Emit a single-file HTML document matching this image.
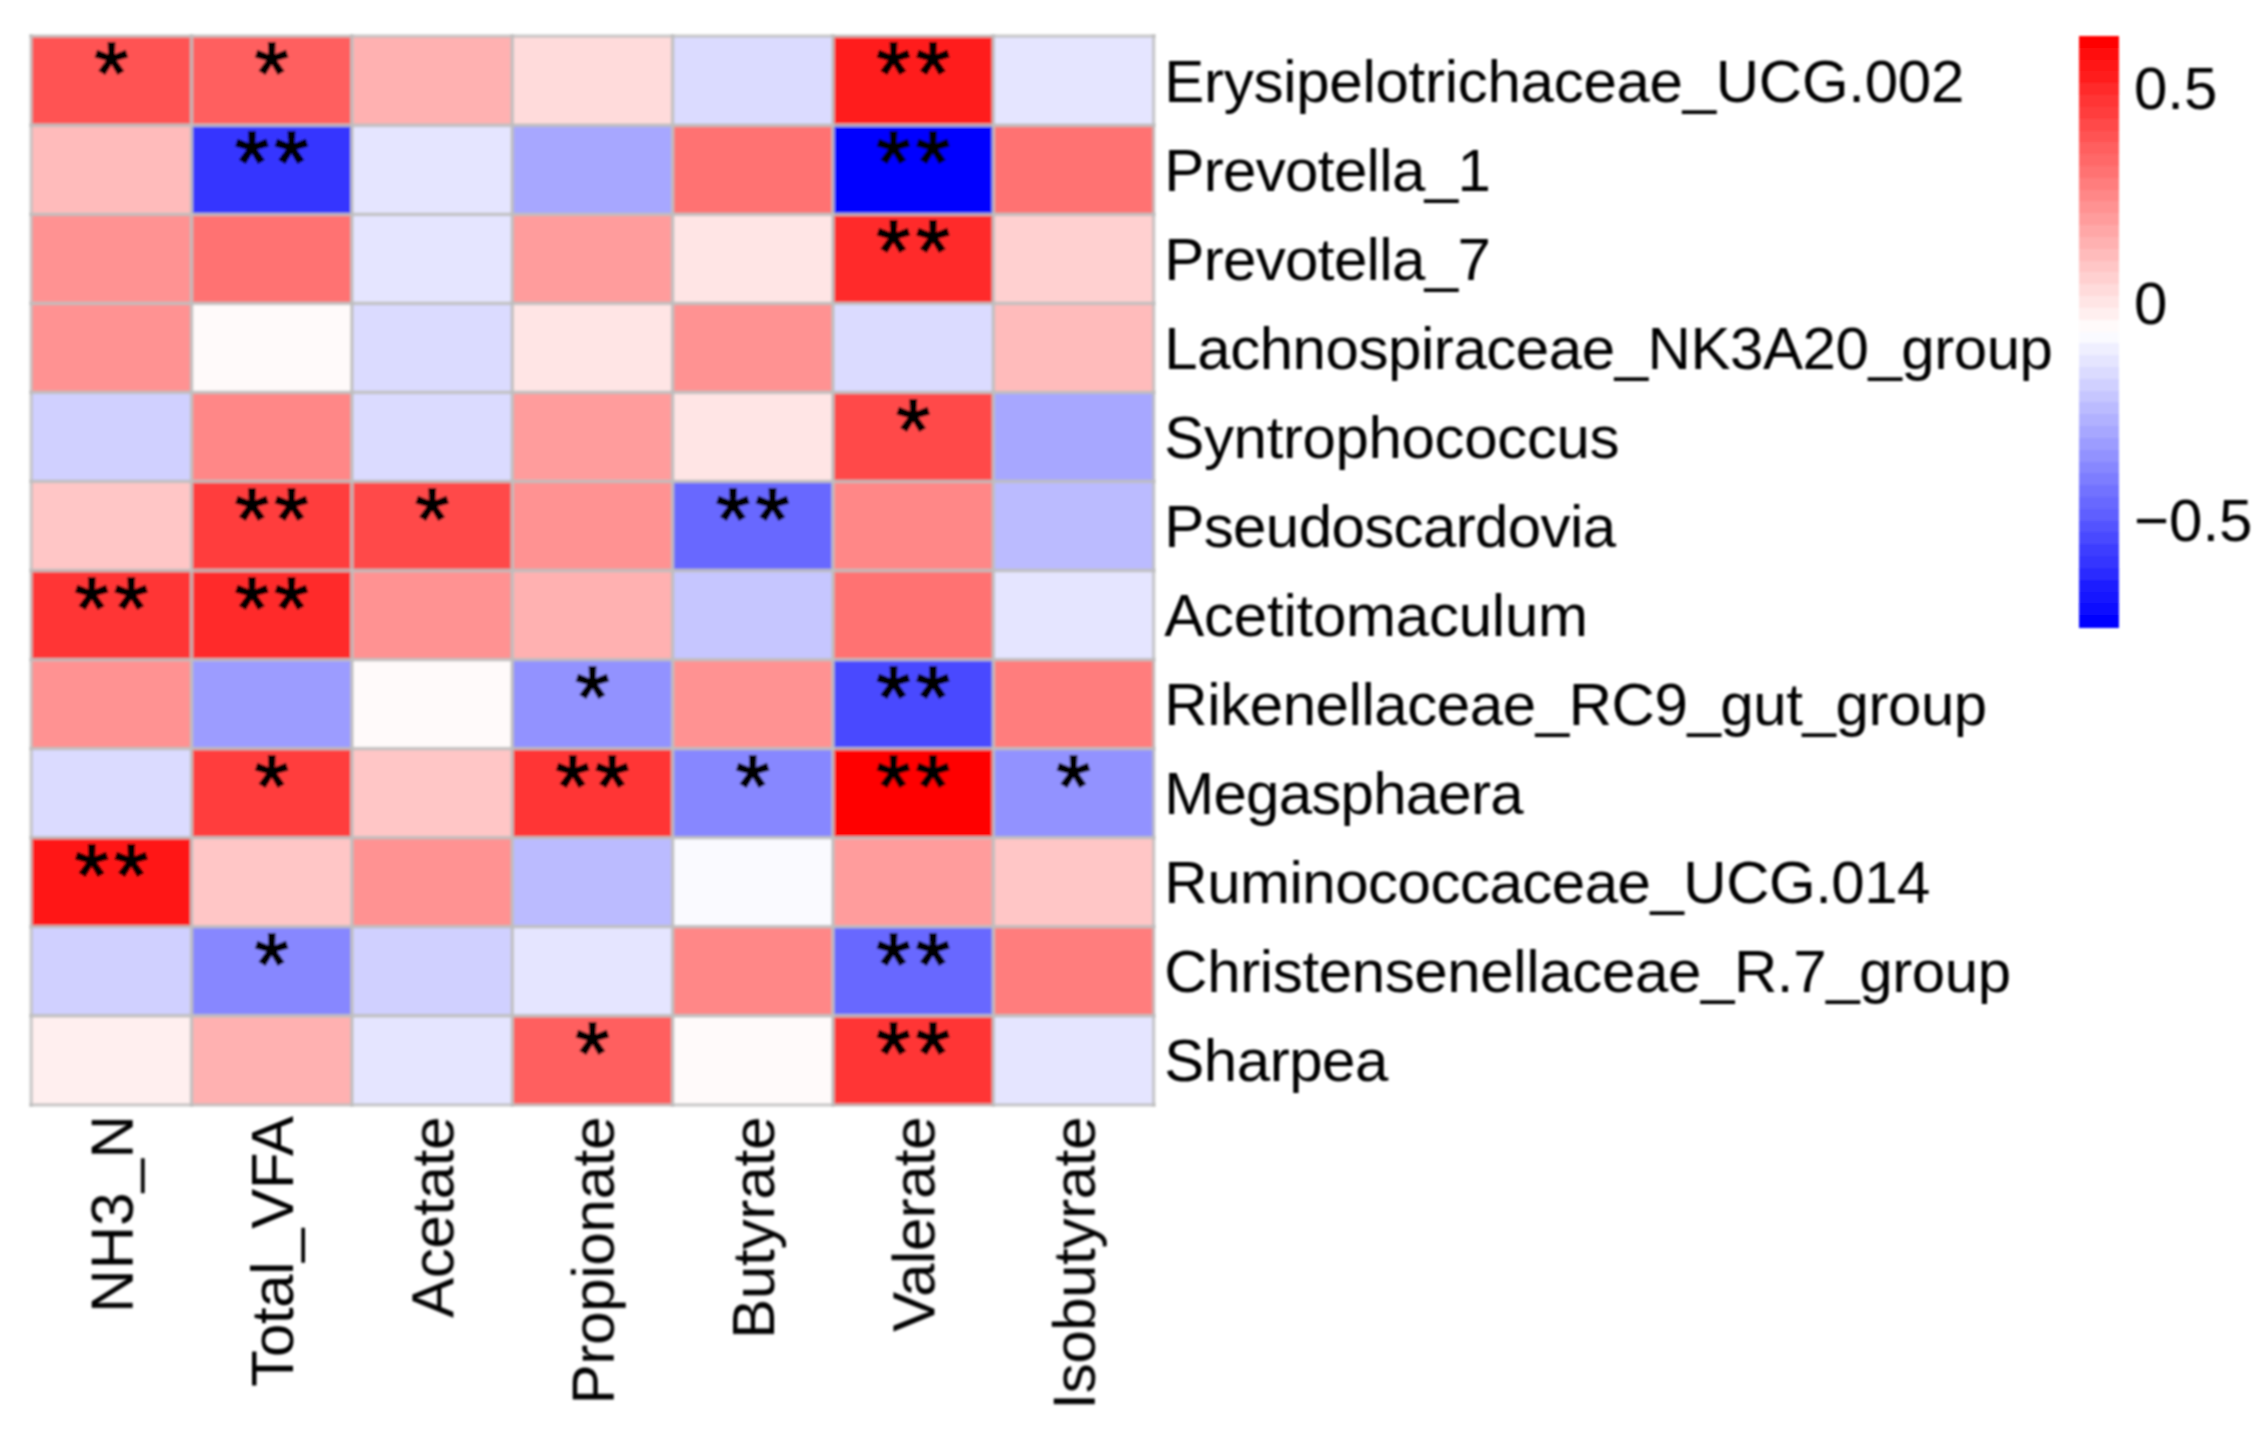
<!DOCTYPE html><html><head><meta charset="utf-8"><title>Heatmap</title><style>html,body{margin:0;padding:0;background:#fff}svg{display:block}text{font-family:"Liberation Sans",sans-serif;fill:#000}#rowlabels text,#collabels text,#legend text{stroke:#000;stroke-width:0px}</style></head><body>
<svg width="2266" height="1429" viewBox="0 0 2266 1429">
<defs><filter id="soft" x="0" y="0" width="2266" height="1429" filterUnits="userSpaceOnUse"><feGaussianBlur stdDeviation="0.9"/></filter></defs>
<rect width="2266" height="1429" fill="#fff"/>
<g filter="url(#soft)">
<g id="cells">
<rect x="31.20" y="36.20" width="160.85" height="89.55" fill="#ff5353"/>
<rect x="191.55" y="36.20" width="160.85" height="89.55" fill="#ff5e5e"/>
<rect x="351.90" y="36.20" width="160.85" height="89.55" fill="#ffb1b1"/>
<rect x="512.25" y="36.20" width="160.85" height="89.55" fill="#ffdbdb"/>
<rect x="672.60" y="36.20" width="160.85" height="89.55" fill="#dbdbff"/>
<rect x="832.95" y="36.20" width="160.85" height="89.55" fill="#ff1f1f"/>
<rect x="993.30" y="36.20" width="160.85" height="89.55" fill="#e5e5ff"/>
<rect x="31.20" y="125.25" width="160.85" height="89.55" fill="#ffbbbb"/>
<rect x="191.55" y="125.25" width="160.85" height="89.55" fill="#3434ff"/>
<rect x="351.90" y="125.25" width="160.85" height="89.55" fill="#e5e5ff"/>
<rect x="512.25" y="125.25" width="160.85" height="89.55" fill="#a7a7ff"/>
<rect x="672.60" y="125.25" width="160.85" height="89.55" fill="#ff7272"/>
<rect x="832.95" y="125.25" width="160.85" height="89.55" fill="#0000ff"/>
<rect x="993.30" y="125.25" width="160.85" height="89.55" fill="#ff7272"/>
<rect x="31.20" y="214.30" width="160.85" height="89.55" fill="#ff9292"/>
<rect x="191.55" y="214.30" width="160.85" height="89.55" fill="#ff7272"/>
<rect x="351.90" y="214.30" width="160.85" height="89.55" fill="#e5e5ff"/>
<rect x="512.25" y="214.30" width="160.85" height="89.55" fill="#ff9c9c"/>
<rect x="672.60" y="214.30" width="160.85" height="89.55" fill="#ffe5e5"/>
<rect x="832.95" y="214.30" width="160.85" height="89.55" fill="#ff2a2a"/>
<rect x="993.30" y="214.30" width="160.85" height="89.55" fill="#ffd0d0"/>
<rect x="31.20" y="303.35" width="160.85" height="89.55" fill="#ff9292"/>
<rect x="191.55" y="303.35" width="160.85" height="89.55" fill="#fffafa"/>
<rect x="351.90" y="303.35" width="160.85" height="89.55" fill="#dbdbff"/>
<rect x="512.25" y="303.35" width="160.85" height="89.55" fill="#ffe5e5"/>
<rect x="672.60" y="303.35" width="160.85" height="89.55" fill="#ff9292"/>
<rect x="832.95" y="303.35" width="160.85" height="89.55" fill="#dbdbff"/>
<rect x="993.30" y="303.35" width="160.85" height="89.55" fill="#ffbbbb"/>
<rect x="31.20" y="392.40" width="160.85" height="89.55" fill="#d0d0ff"/>
<rect x="191.55" y="392.40" width="160.85" height="89.55" fill="#ff8787"/>
<rect x="351.90" y="392.40" width="160.85" height="89.55" fill="#dbdbff"/>
<rect x="512.25" y="392.40" width="160.85" height="89.55" fill="#ff9c9c"/>
<rect x="672.60" y="392.40" width="160.85" height="89.55" fill="#ffe5e5"/>
<rect x="832.95" y="392.40" width="160.85" height="89.55" fill="#ff4949"/>
<rect x="993.30" y="392.40" width="160.85" height="89.55" fill="#a7a7ff"/>
<rect x="31.20" y="481.45" width="160.85" height="89.55" fill="#ffc6c6"/>
<rect x="191.55" y="481.45" width="160.85" height="89.55" fill="#ff3e3e"/>
<rect x="351.90" y="481.45" width="160.85" height="89.55" fill="#ff4949"/>
<rect x="512.25" y="481.45" width="160.85" height="89.55" fill="#ff9292"/>
<rect x="672.60" y="481.45" width="160.85" height="89.55" fill="#6868ff"/>
<rect x="832.95" y="481.45" width="160.85" height="89.55" fill="#ff8787"/>
<rect x="993.30" y="481.45" width="160.85" height="89.55" fill="#bbbbff"/>
<rect x="31.20" y="570.50" width="160.85" height="89.55" fill="#ff3434"/>
<rect x="191.55" y="570.50" width="160.85" height="89.55" fill="#ff2a2a"/>
<rect x="351.90" y="570.50" width="160.85" height="89.55" fill="#ff9292"/>
<rect x="512.25" y="570.50" width="160.85" height="89.55" fill="#ffb1b1"/>
<rect x="672.60" y="570.50" width="160.85" height="89.55" fill="#c6c6ff"/>
<rect x="832.95" y="570.50" width="160.85" height="89.55" fill="#ff7272"/>
<rect x="993.30" y="570.50" width="160.85" height="89.55" fill="#e5e5ff"/>
<rect x="31.20" y="659.55" width="160.85" height="89.55" fill="#ff9292"/>
<rect x="191.55" y="659.55" width="160.85" height="89.55" fill="#9c9cff"/>
<rect x="351.90" y="659.55" width="160.85" height="89.55" fill="#fffafa"/>
<rect x="512.25" y="659.55" width="160.85" height="89.55" fill="#9292ff"/>
<rect x="672.60" y="659.55" width="160.85" height="89.55" fill="#ff9292"/>
<rect x="832.95" y="659.55" width="160.85" height="89.55" fill="#4949ff"/>
<rect x="993.30" y="659.55" width="160.85" height="89.55" fill="#ff7d7d"/>
<rect x="31.20" y="748.60" width="160.85" height="89.55" fill="#dbdbff"/>
<rect x="191.55" y="748.60" width="160.85" height="89.55" fill="#ff3e3e"/>
<rect x="351.90" y="748.60" width="160.85" height="89.55" fill="#ffc6c6"/>
<rect x="512.25" y="748.60" width="160.85" height="89.55" fill="#ff3434"/>
<rect x="672.60" y="748.60" width="160.85" height="89.55" fill="#8787ff"/>
<rect x="832.95" y="748.60" width="160.85" height="89.55" fill="#ff0000"/>
<rect x="993.30" y="748.60" width="160.85" height="89.55" fill="#9292ff"/>
<rect x="31.20" y="837.65" width="160.85" height="89.55" fill="#ff1515"/>
<rect x="191.55" y="837.65" width="160.85" height="89.55" fill="#ffc6c6"/>
<rect x="351.90" y="837.65" width="160.85" height="89.55" fill="#ff9292"/>
<rect x="512.25" y="837.65" width="160.85" height="89.55" fill="#bbbbff"/>
<rect x="672.60" y="837.65" width="160.85" height="89.55" fill="#fafaff"/>
<rect x="832.95" y="837.65" width="160.85" height="89.55" fill="#ff9c9c"/>
<rect x="993.30" y="837.65" width="160.85" height="89.55" fill="#ffc6c6"/>
<rect x="31.20" y="926.70" width="160.85" height="89.55" fill="#d0d0ff"/>
<rect x="191.55" y="926.70" width="160.85" height="89.55" fill="#8787ff"/>
<rect x="351.90" y="926.70" width="160.85" height="89.55" fill="#d0d0ff"/>
<rect x="512.25" y="926.70" width="160.85" height="89.55" fill="#e5e5ff"/>
<rect x="672.60" y="926.70" width="160.85" height="89.55" fill="#ff8787"/>
<rect x="832.95" y="926.70" width="160.85" height="89.55" fill="#6868ff"/>
<rect x="993.30" y="926.70" width="160.85" height="89.55" fill="#ff7d7d"/>
<rect x="31.20" y="1015.75" width="160.85" height="89.55" fill="#ffefef"/>
<rect x="191.55" y="1015.75" width="160.85" height="89.55" fill="#ffb1b1"/>
<rect x="351.90" y="1015.75" width="160.85" height="89.55" fill="#e5e5ff"/>
<rect x="512.25" y="1015.75" width="160.85" height="89.55" fill="#ff5e5e"/>
<rect x="672.60" y="1015.75" width="160.85" height="89.55" fill="#fffafa"/>
<rect x="832.95" y="1015.75" width="160.85" height="89.55" fill="#ff3434"/>
<rect x="993.30" y="1015.75" width="160.85" height="89.55" fill="#e5e5ff"/>
</g>
<g id="grid" stroke="#bebebe" stroke-width="3.8" stroke-opacity="0.82" stroke-linecap="square">
<line x1="31.20" y1="36.20" x2="31.20" y2="1104.80" stroke-opacity="0.7"/>
<line x1="191.55" y1="36.20" x2="191.55" y2="1104.80"/>
<line x1="351.90" y1="36.20" x2="351.90" y2="1104.80"/>
<line x1="512.25" y1="36.20" x2="512.25" y2="1104.80"/>
<line x1="672.60" y1="36.20" x2="672.60" y2="1104.80"/>
<line x1="832.95" y1="36.20" x2="832.95" y2="1104.80"/>
<line x1="993.30" y1="36.20" x2="993.30" y2="1104.80"/>
<line x1="1153.65" y1="36.20" x2="1153.65" y2="1104.80" stroke-opacity="0.7"/>
<line x1="31.20" y1="36.20" x2="1153.65" y2="36.20" stroke-opacity="0.7"/>
<line x1="31.20" y1="125.25" x2="1153.65" y2="125.25"/>
<line x1="31.20" y1="214.30" x2="1153.65" y2="214.30"/>
<line x1="31.20" y1="303.35" x2="1153.65" y2="303.35"/>
<line x1="31.20" y1="392.40" x2="1153.65" y2="392.40"/>
<line x1="31.20" y1="481.45" x2="1153.65" y2="481.45"/>
<line x1="31.20" y1="570.50" x2="1153.65" y2="570.50"/>
<line x1="31.20" y1="659.55" x2="1153.65" y2="659.55"/>
<line x1="31.20" y1="748.60" x2="1153.65" y2="748.60"/>
<line x1="31.20" y1="837.65" x2="1153.65" y2="837.65"/>
<line x1="31.20" y1="926.70" x2="1153.65" y2="926.70"/>
<line x1="31.20" y1="1015.75" x2="1153.65" y2="1015.75"/>
<line x1="31.20" y1="1104.80" x2="1153.65" y2="1104.80" stroke-opacity="0.7"/>
</g>
<g id="stars" font-size="87" text-anchor="middle" letter-spacing="5.66" stroke="#000" stroke-width="2" stroke-linejoin="miter">
<text x="114.20" y="103.32">*</text>
<text x="274.55" y="103.32">*</text>
<text x="915.95" y="103.32">**</text>
<text x="274.55" y="192.37">**</text>
<text x="915.95" y="192.37">**</text>
<text x="915.95" y="281.43">**</text>
<text x="915.95" y="459.52">*</text>
<text x="274.55" y="548.58">**</text>
<text x="434.90" y="548.58">*</text>
<text x="755.60" y="548.58">**</text>
<text x="114.20" y="637.62">**</text>
<text x="274.55" y="637.62">**</text>
<text x="595.25" y="726.68">*</text>
<text x="915.95" y="726.68">**</text>
<text x="274.55" y="815.73">*</text>
<text x="595.25" y="815.73">**</text>
<text x="755.60" y="815.73">*</text>
<text x="915.95" y="815.73">**</text>
<text x="1076.30" y="815.73">*</text>
<text x="114.20" y="904.78">**</text>
<text x="274.55" y="993.83">*</text>
<text x="915.95" y="993.83">**</text>
<text x="595.25" y="1082.88">*</text>
<text x="915.95" y="1082.88">**</text>
</g>
<g id="rowlabels" font-size="60">
<text class="rl" x="1164.3" y="101.52" textLength="799.98" lengthAdjust="spacing">Erysipelotrichaceae_UCG.002</text>
<text class="rl" x="1164.3" y="190.57" textLength="326.55" lengthAdjust="spacing">Prevotella_1</text>
<text class="rl" x="1164.3" y="279.62" textLength="326.55" lengthAdjust="spacing">Prevotella_7</text>
<text class="rl" x="1164.3" y="368.68" textLength="888.69" lengthAdjust="spacing">Lachnospiraceae_NK3A20_group</text>
<text class="rl" x="1164.3" y="457.72" textLength="455.27" lengthAdjust="spacing">Syntrophococcus</text>
<text class="rl" x="1164.3" y="546.77" textLength="451.80" lengthAdjust="spacing">Pseudoscardovia</text>
<text class="rl" x="1164.3" y="635.82" textLength="423.73" lengthAdjust="spacing">Acetitomaculum</text>
<text class="rl" x="1164.3" y="724.88" textLength="822.91" lengthAdjust="spacing">Rikenellaceae_RC9_gut_group</text>
<text class="rl" x="1164.3" y="813.92" textLength="359.22" lengthAdjust="spacing">Megasphaera</text>
<text class="rl" x="1164.3" y="902.98" textLength="766.18" lengthAdjust="spacing">Ruminococcaceae_UCG.014</text>
<text class="rl" x="1164.3" y="992.02" textLength="846.83" lengthAdjust="spacing">Christensenellaceae_R.7_group</text>
<text class="rl" x="1164.3" y="1081.08" textLength="224.06" lengthAdjust="spacing">Sharpea</text>
</g>
<g id="collabels" font-size="60" text-anchor="end">
<text class="cl" transform="translate(132.68,1115.3) rotate(-90)" textLength="197.63" lengthAdjust="spacing">NH3_N</text>
<text class="cl" transform="translate(293.02,1116.1) rotate(-90)" textLength="270.70" lengthAdjust="spacing">Total_VFA</text>
<text class="cl" transform="translate(453.38,1116.6) rotate(-90)" textLength="201.27" lengthAdjust="spacing">Acetate</text>
<text class="cl" transform="translate(613.73,1116.6) rotate(-90)" textLength="287.72" lengthAdjust="spacing">Propionate</text>
<text class="cl" transform="translate(774.07,1116.6) rotate(-90)" textLength="222.35" lengthAdjust="spacing">Butyrate</text>
<text class="cl" transform="translate(934.42,1116.6) rotate(-90)" textLength="215.33" lengthAdjust="spacing">Valerate</text>
<text class="cl" transform="translate(1094.77,1116.6) rotate(-90)" textLength="293.04" lengthAdjust="spacing">Isobutyrate</text>
</g>
<g id="bar" shape-rendering="crispEdges">
<rect x="2078.5" y="36.00" width="40.5" height="12.42" fill="#ff0000"/>
<rect x="2078.5" y="47.82" width="40.5" height="12.42" fill="#ff0a0a"/>
<rect x="2078.5" y="59.64" width="40.5" height="12.42" fill="#ff1515"/>
<rect x="2078.5" y="71.46" width="40.5" height="12.42" fill="#ff1f1f"/>
<rect x="2078.5" y="83.28" width="40.5" height="12.42" fill="#ff2a2a"/>
<rect x="2078.5" y="95.10" width="40.5" height="12.42" fill="#ff3434"/>
<rect x="2078.5" y="106.92" width="40.5" height="12.42" fill="#ff3e3e"/>
<rect x="2078.5" y="118.74" width="40.5" height="12.42" fill="#ff4949"/>
<rect x="2078.5" y="130.56" width="40.5" height="12.42" fill="#ff5353"/>
<rect x="2078.5" y="142.38" width="40.5" height="12.42" fill="#ff5e5e"/>
<rect x="2078.5" y="154.20" width="40.5" height="12.42" fill="#ff6868"/>
<rect x="2078.5" y="166.02" width="40.5" height="12.42" fill="#ff7272"/>
<rect x="2078.5" y="177.84" width="40.5" height="12.42" fill="#ff7d7d"/>
<rect x="2078.5" y="189.66" width="40.5" height="12.42" fill="#ff8787"/>
<rect x="2078.5" y="201.48" width="40.5" height="12.42" fill="#ff9292"/>
<rect x="2078.5" y="213.30" width="40.5" height="12.42" fill="#ff9c9c"/>
<rect x="2078.5" y="225.12" width="40.5" height="12.42" fill="#ffa7a7"/>
<rect x="2078.5" y="236.94" width="40.5" height="12.42" fill="#ffb1b1"/>
<rect x="2078.5" y="248.76" width="40.5" height="12.42" fill="#ffbbbb"/>
<rect x="2078.5" y="260.58" width="40.5" height="12.42" fill="#ffc6c6"/>
<rect x="2078.5" y="272.40" width="40.5" height="12.42" fill="#ffd0d0"/>
<rect x="2078.5" y="284.22" width="40.5" height="12.42" fill="#ffdbdb"/>
<rect x="2078.5" y="296.04" width="40.5" height="12.42" fill="#ffe5e5"/>
<rect x="2078.5" y="307.86" width="40.5" height="12.42" fill="#ffefef"/>
<rect x="2078.5" y="319.68" width="40.5" height="12.42" fill="#fffafa"/>
<rect x="2078.5" y="331.50" width="40.5" height="12.42" fill="#fafaff"/>
<rect x="2078.5" y="343.32" width="40.5" height="12.42" fill="#efefff"/>
<rect x="2078.5" y="355.14" width="40.5" height="12.42" fill="#e5e5ff"/>
<rect x="2078.5" y="366.96" width="40.5" height="12.42" fill="#dbdbff"/>
<rect x="2078.5" y="378.78" width="40.5" height="12.42" fill="#d0d0ff"/>
<rect x="2078.5" y="390.60" width="40.5" height="12.42" fill="#c6c6ff"/>
<rect x="2078.5" y="402.42" width="40.5" height="12.42" fill="#bbbbff"/>
<rect x="2078.5" y="414.24" width="40.5" height="12.42" fill="#b1b1ff"/>
<rect x="2078.5" y="426.06" width="40.5" height="12.42" fill="#a7a7ff"/>
<rect x="2078.5" y="437.88" width="40.5" height="12.42" fill="#9c9cff"/>
<rect x="2078.5" y="449.70" width="40.5" height="12.42" fill="#9292ff"/>
<rect x="2078.5" y="461.52" width="40.5" height="12.42" fill="#8787ff"/>
<rect x="2078.5" y="473.34" width="40.5" height="12.42" fill="#7d7dff"/>
<rect x="2078.5" y="485.16" width="40.5" height="12.42" fill="#7272ff"/>
<rect x="2078.5" y="496.98" width="40.5" height="12.42" fill="#6868ff"/>
<rect x="2078.5" y="508.80" width="40.5" height="12.42" fill="#5e5eff"/>
<rect x="2078.5" y="520.62" width="40.5" height="12.42" fill="#5353ff"/>
<rect x="2078.5" y="532.44" width="40.5" height="12.42" fill="#4949ff"/>
<rect x="2078.5" y="544.26" width="40.5" height="12.42" fill="#3e3eff"/>
<rect x="2078.5" y="556.08" width="40.5" height="12.42" fill="#3434ff"/>
<rect x="2078.5" y="567.90" width="40.5" height="12.42" fill="#2a2aff"/>
<rect x="2078.5" y="579.72" width="40.5" height="12.42" fill="#1f1fff"/>
<rect x="2078.5" y="591.54" width="40.5" height="12.42" fill="#1515ff"/>
<rect x="2078.5" y="603.36" width="40.5" height="12.42" fill="#0a0aff"/>
<rect x="2078.5" y="615.18" width="40.5" height="12.42" fill="#0000ff"/>
</g>
<g id="legend" font-size="60">
<text x="2134" y="108.7">0.5</text>
<text x="2134" y="324.0">0</text>
<text x="2134" y="540.5">−0.5</text>
</g>
</g>
</svg></body></html>
